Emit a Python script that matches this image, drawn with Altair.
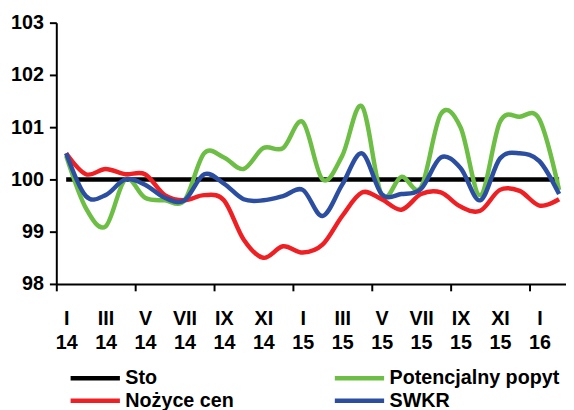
import altair as alt
import pandas as pd

# Monthly index 0..25 = I 2014 .. II 2016
series_order = ["Sto", "Potencjalny popyt", "Nożyce cen", "SWKR"]
series_colors = ["#000000", "#6DBE45", "#EE2024", "#2C4EA0"]

sto = [100.0, 100.0, 100.0, 100.0, 100.0, 100.0, 100.0, 100.0, 100.0, 100.0,
       100.0, 100.0, 100.0, 100.0, 100.0, 100.0, 100.0, 100.0, 100.0, 100.0,
       100.0, 100.0, 100.0, 100.0, 100.0, 100.0]
potencjalny_popyt = [100.45, 99.45, 99.1, 100.0, 99.65, 99.6, 99.6, 100.5, 100.42, 100.2,
                     100.6, 100.6, 101.1, 100.0, 100.45, 101.4, 99.7, 100.05, 99.85, 101.25,
                     101.0, 99.7, 101.1, 101.2, 101.15, 99.8]
nozyce_cen = [100.5, 100.1, 100.2, 100.1, 100.1, 99.7, 99.6, 99.7, 99.6, 98.85,
              98.5, 98.72, 98.6, 98.75, 99.3, 99.75, 99.62, 99.42, 99.72, 99.75,
              99.48, 99.4, 99.8, 99.78, 99.5, 99.62]
swkr = [100.5, 99.68, 99.7, 100.0, 99.9, 99.65, 99.6, 100.1, 99.92, 99.62,
        99.6, 99.68, 99.8, 99.3, 99.9, 100.5, 99.72, 99.72, 99.82, 100.42,
        100.22, 99.6, 100.4, 100.5, 100.35, 99.72]

tick_months = ["I", "III", "V", "VII", "IX", "XI", "I", "III", "V", "VII", "IX", "XI", "I"]
tick_years = ["14", "14", "14", "14", "14", "14", "15", "15", "15", "15", "15", "15", "16"]
y_ticks = [98, 99, 100, 101, 102, 103]

series_values = {
    "Sto": sto,
    "Potencjalny popyt": potencjalny_popyt,
    "Nożyce cen": nozyce_cen,
    "SWKR": swkr,
}
rows = []
for name in series_order:
    for i, v in enumerate(series_values[name]):
        rows.append({"series": name, "idx": i, "value": v})
df = pd.DataFrame(rows)

n = len(sto)
label_positions = [2 * i for i in range(len(tick_months))]
boundary_positions = [b - 0.5 for b in range(0, n, 4)]
axis_values = sorted(label_positions + boundary_positions)

lbl_js = "[" + ",".join("['{}','{}']".format(m, y) for m, y in zip(tick_months, tick_years)) + "]"
label_expr = "(datum.value % 2 == 0) ? " + lbl_js + "[datum.value / 2] : ''"

FONT = "Liberation Sans"

chart = alt.Chart(df).mark_line(
    interpolate="cardinal", tension=0, strokeWidth=4.5
).encode(
    x=alt.X(
        "idx:Q",
        title=None,
        scale=alt.Scale(domain=[-0.5, 25.35], nice=False, zero=False),
        axis=alt.Axis(
            values=axis_values,
            labelExpr=label_expr,
            labelOverlap=False,
            labelFlush=False,
            labelFont=FONT,
            labelFontSize=20,
            labelFontWeight="bold",
            labelColor="black",
            labelLineHeight=25,
            labelBaseline="top",
            labelPadding=18,
            tickSize=7,
            tickWidth=2,
            tickColor="black",
            tickOpacity={"condition": {"test": "(datum.value + 0.5) % 4 == 0", "value": 1}, "value": 0},
            domainColor="black",
            domainWidth=2,
            grid=False,
        ),
    ),
    y=alt.Y(
        "value:Q",
        title=None,
        scale=alt.Scale(domain=[98, 103], nice=False, zero=False),
        axis=alt.Axis(
            values=y_ticks,
            format="d",
            labelFont=FONT,
            labelFontSize=20,
            labelFontWeight="bold",
            labelColor="black",
            labelPadding=6,
            tickSize=7,
            tickWidth=2,
            tickColor="black",
            domainColor="black",
            domainWidth=2,
            grid=False,
        ),
    ),
    color=alt.Color(
        "series:N",
        scale=alt.Scale(domain=series_order, range=series_colors),
        legend=alt.Legend(
            title=None,
            orient="none",
            direction="horizontal",
            legendX=27,
            legendY=348,
            columns=2,
            symbolType="M-2.5,0H2.5",
            symbolSize=400,
            symbolStrokeWidth=4.5,
            labelFont=FONT,
            labelFontSize=20,
            labelFontWeight="bold",
            labelColor="black",
            labelOffset=18,
            labelLimit=0,
            columnPadding=92,
            rowPadding=0,
            padding=0,
        ),
    ),
).properties(
    width=517,
    height=265,
    padding={"left": 49, "top": 12, "right": 0, "bottom": 125},
    autosize=alt.AutoSizeParams(type="none"),
).configure_view(stroke=None)

chart.save("out.html", embed_options={"renderer": "svg", "actions": False})
